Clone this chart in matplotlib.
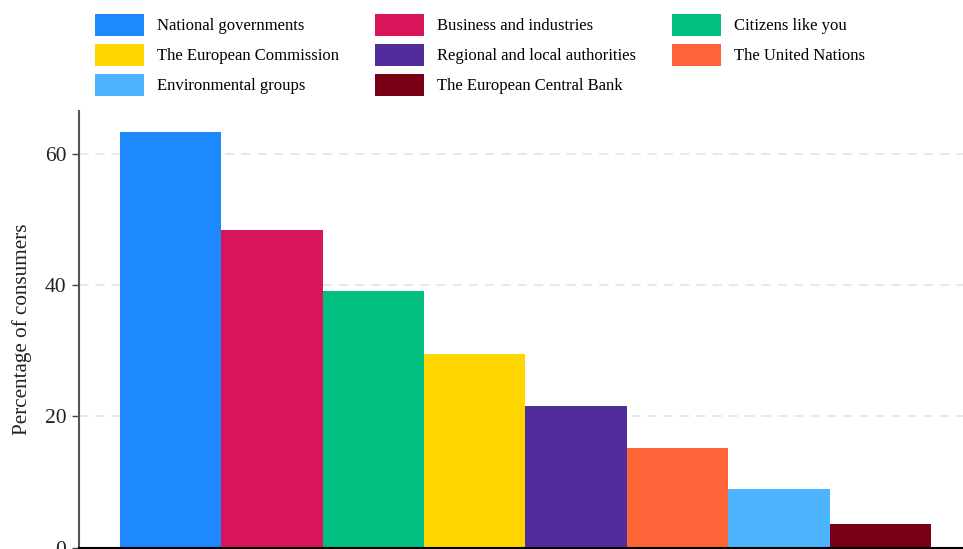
import matplotlib.pyplot as plt
from matplotlib.patches import Patch

labels = ["National governments", "Business and industries", "Citizens like you",
          "The European Commission", "Regional and local authorities",
          "The United Nations", "Environmental groups", "The European Central Bank"]
values = [63.3, 48.4, 39.1, 29.5, 21.6, 15.2, 9.0, 3.6]
colors = ["#1e88ff", "#d8145a", "#00bf80", "#ffd500", "#502d9b",
          "#ff6338", "#4db5ff", "#7a0018"]
yticks = [0, 20, 40, 60]

plt.rcParams['font.family'] = ['Liberation Serif', 'DejaVu Serif']

fig = plt.figure(figsize=(9.63, 5.49), dpi=100)
ax = fig.add_axes([0.082, 0.002, 0.918, 0.796])

xs = list(range(len(values)))
ax.bar(xs, values, width=1.0, color=colors, zorder=2)

ax.set_xlim(-0.904, 7.816)
ax.set_ylim(0, 66.5)
ax.set_yticks(yticks)
ax.set_xticks([])
ax.tick_params(axis='y', labelsize=15.5, length=5, width=1, pad=4,
               color='#444444', colors='#222222')
ax.yaxis.grid(True, linestyle=(0, (5, 4)), color='#e6e6e6', linewidth=1.3, zorder=0)
ax.set_ylabel('Percentage of consumers', fontsize=15.2, color='#222222', labelpad=9)

for side in ['top', 'right']:
    ax.spines[side].set_visible(False)
ax.spines['left'].set_color('#555555')
ax.spines['left'].set_linewidth(1.5)
ax.spines['bottom'].set_color('#000000')
ax.spines['bottom'].set_linewidth(1.5)

# legend laid out row by row across three columns
handles = [Patch(facecolor=c, edgecolor='none') for c in colors]
order = [0, 3, 6, 1, 4, 7, 2, 5]
fig.legend([handles[i] for i in order], [labels[i] for i in order],
           ncol=3, loc='upper left', bbox_to_anchor=(95 / 963, 1 - 14 / 549),
           frameon=False, fontsize=12, handlelength=2.94, handleheight=1.654,
           handletextpad=0.78, labelspacing=0.48, columnspacing=2.15,
           borderpad=0, borderaxespad=0)

fig.savefig('out.png', dpi=100)
